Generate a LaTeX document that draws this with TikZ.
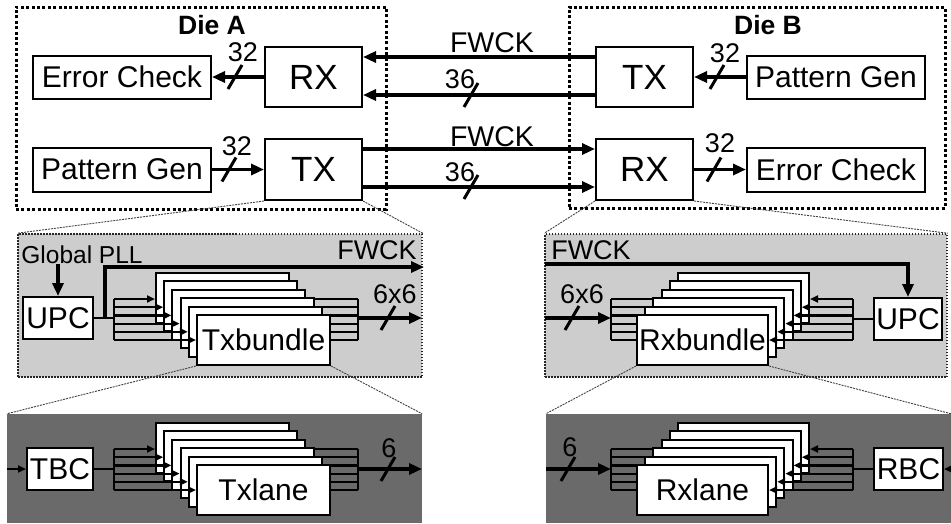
\documentclass[tikz,border=0pt]{standalone}
\usepackage{fontspec}
\setmainfont{Liberation Sans}
\usetikzlibrary{arrows.meta}
\definecolor{lightbg}{RGB}{205,205,205}
\definecolor{darkbg}{RGB}{106,106,106}
\newcommand\busslash[1]{\draw[slash] #1 ++(-7,12) -- ++(14,-24);}
\begin{document}
\begin{tikzpicture}[x=1pt,y=-1pt,
  box/.style={draw=black, line width=2pt, fill=white, inner sep=0pt, font=\fontsize{30}{31}\selectfont},
  bigbox/.style={box, font=\fontsize{35}{36}\selectfont},
  lbl/.style={inner sep=0pt, font=\fontsize{27}{28}\selectfont},
  lblb/.style={inner sep=0pt, font=\fontsize{28.5}{29}\selectfont},
  diebox/.style={draw=black, line width=3pt, dash pattern=on 3pt off 2.4pt, inner sep=0pt},
  panel/.style={fill=lightbg, draw=black!85, line width=1.5pt, dash pattern=on 1.5pt off 1.5pt, inner sep=0pt},
  dpanel/.style={fill=darkbg, inner sep=0pt},
  zoomline/.style={draw=black!75, line width=0.9pt, dash pattern=on 2pt off 1pt},
  thickarrow/.style={line width=3.5pt, -{Triangle[length=13pt,width=11pt]}},
  fan/.style={line width=2.2pt, -{Triangle[length=8pt,width=7pt]}},
  fanline/.style={line width=2.2pt},
  slash/.style={line width=3pt}
]
\useasboundingbox (0,0) rectangle (951,523);

% ---------- panels ----------
\node[panel, minimum width=404pt, minimum height=143pt] (txg) at (220,305.5) {};
\node[panel, minimum width=402pt, minimum height=143pt] (rxg) at (746,305.5) {};
\node[dpanel, minimum width=415pt, minimum height=109pt] (txd) at (214.5,468.5) {};
\node[dpanel, minimum width=405pt, minimum height=109pt] (rxd) at (748.5,468.5) {};

% ---------- dies ----------
\node[diebox, minimum width=370pt, minimum height=202pt] (dieA) at (201,108) {};
\node[diebox, minimum width=376pt, minimum height=201pt] (dieB) at (757,107.5) {};
\node[inner sep=0pt, font=\bfseries\fontsize{26.5}{27}\selectfont] (dieAl) at (212,25) {Die A};
\node[inner sep=0pt, font=\bfseries\fontsize{26.5}{27}\selectfont] (dieBl) at (768,25) {Die B};

\node[box, minimum width=178pt, minimum height=43pt] (ecA) at (122,77) {Error Check};
\node[bigbox, minimum width=97pt, minimum height=60pt] (rxA) at (313.5,77) {RX};
\node[box, minimum width=178pt, minimum height=44pt] (pgA) at (122,169.5) {Pattern Gen};
\node[bigbox, minimum width=97pt, minimum height=61pt] (txA) at (313.5,169.5) {TX};

\node[bigbox, minimum width=97pt, minimum height=60pt] (txB) at (644.5,77) {TX};
\node[box, minimum width=178pt, minimum height=43pt] (pgB) at (836,77) {Pattern Gen};
\node[bigbox, minimum width=97pt, minimum height=61pt] (rxB) at (644.5,169.5) {RX};
\node[box, minimum width=178pt, minimum height=44pt] (ecB) at (836,169.5) {Error Check};

% inner die arrows
\draw[thickarrow] (rxA.west) -- (ecA.east);
\draw[thickarrow] (pgA.east) -- (txA.west);
\draw[thickarrow] (pgB.west) -- (txB.east);
\draw[thickarrow] (rxB.east) -- (ecB.west);
\busslash{(235,77)}
\busslash{(229,169.5)}
\busslash{(717,77)}
\busslash{(714,169.5)}
\node[lbl] (l32a) at (243,52) {32};
\node[lbl] (l32b) at (237,146) {32};
\node[lbl] (l32c) at (725,53) {32};
\node[lbl] (l32d) at (720,143) {32};

% die to die
\draw[thickarrow] ([yshift=20pt]txB.west) -- ([yshift=20pt]rxA.east);
\draw[thickarrow] ([yshift=-18pt]txB.west) -- ([yshift=-18pt]rxA.east);
\draw[thickarrow] ([yshift=20.5pt]txA.east) -- ([yshift=20.5pt]rxB.west);
\draw[thickarrow] ([yshift=-17.5pt]txA.east) -- ([yshift=-17.5pt]rxB.west);
\busslash{(471,95)}
\busslash{(471,187)}
\node[lblb] (fw1) at (492,43) {FWCK};
\node[lbl] (n36a) at (460,79) {36};
\node[lblb] (fw2) at (492,137) {FWCK};
\node[lbl] (n36b) at (460,172) {36};

% zoom lines top
\draw[zoomline] (txA.south west) -- (txg.north west);
\draw[zoomline] (txA.south east) -- (txg.north east);
\draw[zoomline] (rxB.south west) -- (rxg.north west);
\draw[zoomline] (rxB.south east) -- (rxg.north east);

% ---------- Tx bundle ----------
\node[inner sep=0pt, font=\fontsize{24.5}{25}\selectfont] (gpll) at (82,255) {Global PLL};
\node[box, minimum width=70pt, minimum height=42pt] (upc1) at (58,318) {UPC};
\draw[thickarrow] (gpll.south -| upc1.north) -- (upc1.north);
\node[lbl] (fwtx) at (377,250) {FWCK};
\coordinate (tfb) at (105,318);
\coordinate (tfe) at (424,267);
\foreach \i in {0,...,5} {
  \coordinate (tl\i) at (114,{299+8.2*\i});
  \coordinate (tr\i) at (358,{299+8.2*\i});
}
\foreach \i in {0,...,5} \draw[fanline] (tr\i) -- ++(-90,0);
\draw[fanline] (tr0) -- (tr5);
\foreach \i in {0,...,4}
  \node[box, minimum width=133pt, minimum height=50pt] (txb\i) at ({222.5+8.2*\i},{298+8.4*\i}) {};
\node[box, minimum width=133pt, minimum height=50pt] (txb5) at (263.5,340) {Txbundle};
\foreach \i in {0,...,5} \draw[fan] (tl\i) -- (tl\i -| txb\i.west);
\draw[fanline] (tl0) -- (tl5);
\draw[fanline] (upc1.east) -- (upc1.east -| tl0);
\draw[thickarrow] (tfb) |- (tfe);
\coordinate (tout) at (358,318);
\coordinate (toutE) at (422,318);
\draw[thickarrow] (tout) -- (toutE);
\busslash{(388,318)}
\node[lbl] (l66a) at (395,294) {6x6};

% ---------- Rx bundle ----------
\node[lbl] (fwrx) at (591,250) {FWCK};
\node[box, minimum width=68pt, minimum height=42pt] (upc2) at (908,319) {UPC};
\coordinate (rfs) at (545,264);
\draw[thickarrow] (rfs) -| (upc2.north);
\foreach \i in {0,...,5} {
  \coordinate (rl\i) at (611,{299+8.2*\i});
  \coordinate (rr\i) at (853,{299+8.2*\i});
}
\foreach \i in {0,...,5} \draw[fanline] (rl\i) -- ++(90,0);
\draw[fanline] (rl0) -- (rl5);
\foreach \i in {0,...,4}
  \node[box, minimum width=131pt, minimum height=50pt] (rxb\i) at ({743.5-8.2*\i},{298+8.4*\i}) {};
\node[box, minimum width=131pt, minimum height=50pt] (rxb5) at (702.5,340) {Rxbundle};
\foreach \i in {0,...,5} \draw[fan] (rr\i) -- (rr\i -| rxb\i.east);
\draw[fanline] (rr0) -- (rr5);
\draw[fanline] (upc2.west) -- (upc2.west -| rr0);
\coordinate (rin) at (545,318);
\draw[thickarrow] (rin) -- (rin -| rl0);
\busslash{(572,318)}
\node[lbl] (l66b) at (582,294) {6x6};

% zoom lines middle
\draw[zoomline] (txb5.south west) -- (txd.north west);
\draw[zoomline] (txb5.south east) -- (txd.north east);
\draw[zoomline] (rxb5.south west) -- (rxd.north west);
\draw[zoomline] (rxb5.south east) -- (rxd.north east);

% ---------- Tx lane ----------
\node[box, minimum width=66pt, minimum height=42pt] (tbc) at (60,469) {TBC};
\coordinate (tlin) at (7,469);
\draw[fan] (tlin) -- (tbc.west);
\foreach \i in {0,...,5} {
  \coordinate (ul\i) at (114,{449+8.2*\i});
  \coordinate (ur\i) at (358,{449+8.2*\i});
}
\foreach \i in {0,...,5} \draw[fanline] (ur\i) -- ++(-90,0);
\draw[fanline] (ur0) -- (ur5);
\foreach \i in {0,...,4}
  \node[box, minimum width=133pt, minimum height=50pt] (txl\i) at ({222.5+8.2*\i},{448+8.4*\i}) {};
\node[box, minimum width=133pt, minimum height=50pt] (txl5) at (263.5,490) {Txlane};
\foreach \i in {0,...,5} \draw[fan] (ul\i) -- (ul\i -| txl\i.west);
\draw[fanline] (ul0) -- (ul5);
\draw[fanline] (tbc.east) -- (tbc.east -| ul0);
\coordinate (lout) at (358,469);
\coordinate (loutE) at (422,469);
\draw[thickarrow] (lout) -- (loutE);
\busslash{(388,469)}
\node[lbl] (l6a) at (389,448) {6};

% ---------- Rx lane ----------
\node[box, minimum width=69pt, minimum height=42pt] (rbc) at (908.5,469) {RBC};
\coordinate (rlin) at (951,469);
\draw[fan] (rlin) -- (rbc.east);
\foreach \i in {0,...,5} {
  \coordinate (vl\i) at (611,{449+8.2*\i});
  \coordinate (vr\i) at (853,{449+8.2*\i});
}
\foreach \i in {0,...,5} \draw[fanline] (vl\i) -- ++(90,0);
\draw[fanline] (vl0) -- (vl5);
\foreach \i in {0,...,4}
  \node[box, minimum width=131pt, minimum height=50pt] (rxl\i) at ({743.5-8.2*\i},{448+8.4*\i}) {};
\node[box, minimum width=131pt, minimum height=50pt] (rxl5) at (702.5,490) {Rxlane};
\foreach \i in {0,...,5} \draw[fan] (vr\i) -- (vr\i -| rxl\i.east);
\draw[fanline] (vr0) -- (vr5);
\draw[fanline] (rbc.west) -- (rbc.west -| vr0);
\coordinate (vin) at (546,469);
\draw[thickarrow] (vin) -- (vin -| vl0);
\busslash{(568,469)}
\node[lbl] (l6b) at (570,447) {6};
\end{tikzpicture}
\end{document}
